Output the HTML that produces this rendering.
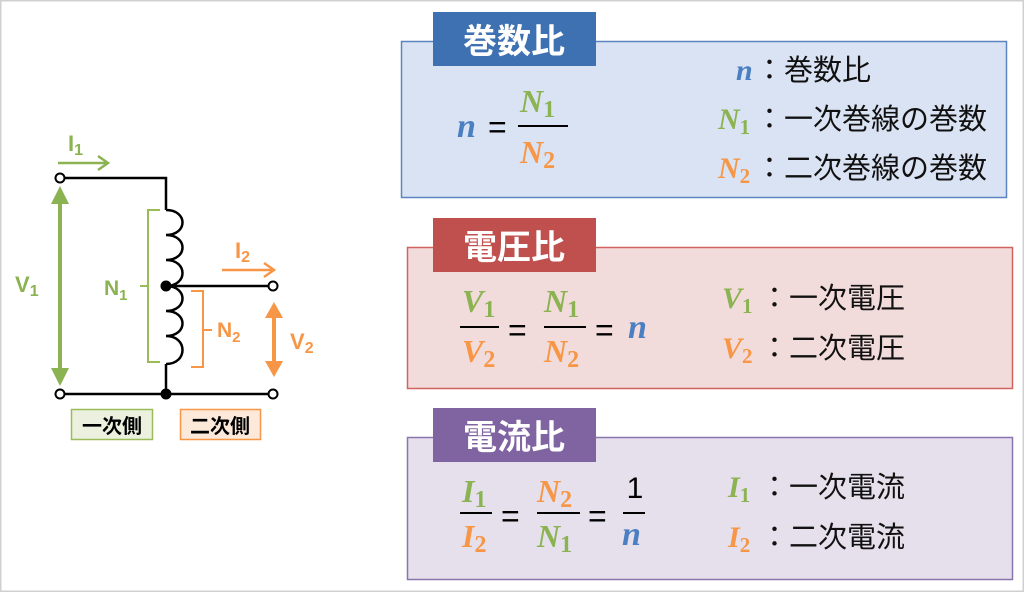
<!DOCTYPE html>
<html><head><meta charset="utf-8"><style>
html,body{margin:0;padding:0;background:#fff}
svg{display:block}
.j{font-family:"Liberation Sans","Noto Sans CJK JP",sans-serif}
.m{font-family:"Liberation Serif",serif;font-weight:bold;font-style:italic}
.s{font-style:normal}
</style></head><body>
<svg width="1024" height="592" viewBox="0 0 1024 592" xmlns="http://www.w3.org/2000/svg">
<rect x="0.5" y="0.5" width="1023" height="591" fill="#fff" stroke="#d0d0d0" stroke-width="2"/>
<!-- circuit -->
<g stroke="#000" stroke-width="2.5" fill="none">
<polyline points="64,178 166,178 166,210"/>
<path d="M166,210 c22,0 22,25 0,25 c22,0 22,25 0,25 c22,0 22,26 0,26 c22,0 22,25 0,25 c22,0 22,25 0,25 c22,0 22,28 0,28"/>
<line x1="166" y1="364" x2="166" y2="394"/>
<line x1="166" y1="286" x2="268" y2="286"/>
<line x1="64" y1="394" x2="268" y2="394"/>
</g>
<circle cx="166" cy="286" r="5.5" fill="#000"/>
<circle cx="166" cy="394" r="5.5" fill="#000"/>
<g fill="#fff" stroke="#000" stroke-width="2">
<circle cx="60" cy="178" r="4.5"/><circle cx="60" cy="394" r="4.5"/>
<circle cx="273" cy="286" r="4.5"/><circle cx="273" cy="394" r="4.5"/>
</g>
<line x1="60" y1="200" x2="60" y2="372" stroke="#8cb352" stroke-width="4"/>
<polygon points="60,186 51,204 69,204" fill="#8cb352"/>
<polygon points="60,386 51,368 69,368" fill="#8cb352"/>
<text x="15" y="292" class="j" font-size="22" font-weight="bold" fill="#8cb352">V<tspan font-size="16" dy="4">1</tspan></text>
<text x="68" y="151" class="j" font-size="22" font-weight="bold" fill="#8cb352">I<tspan font-size="16" dy="4">1</tspan></text>
<polyline points="58,163 108,163" stroke="#8cb352" stroke-width="2.5" fill="none"/>
<polyline points="98,156 108,163 98,170" stroke="#8cb352" stroke-width="2.5" fill="none"/>
<path d="M160,210 H148 V362 H160 M148,286 H140" stroke="#9bbb59" stroke-width="2" fill="none"/>
<text x="104" y="295" class="j" font-size="21" font-weight="bold" fill="#8cb352">N<tspan font-size="15" dy="5">1</tspan></text>
<path d="M191,291 H203 V367 H191 M203,330 H212" stroke="#f79646" stroke-width="2" fill="none"/>
<text x="217" y="337" class="j" font-size="21" font-weight="bold" fill="#f79646">N<tspan font-size="15" dy="5">2</tspan></text>
<text x="235" y="258" class="j" font-size="22" font-weight="bold" fill="#f79646">I<tspan font-size="16" dy="4">2</tspan></text>
<polyline points="222,270 274,270" stroke="#f79646" stroke-width="2.5" fill="none"/>
<polyline points="264,263 274,270 264,277" stroke="#f79646" stroke-width="2.5" fill="none"/>
<line x1="274" y1="315" x2="274" y2="364" stroke="#f79646" stroke-width="4"/>
<polygon points="274,302 265,318 283,318" fill="#f79646"/>
<polygon points="274,377 265,361 283,361" fill="#f79646"/>
<text x="290" y="349" class="j" font-size="22" font-weight="bold" fill="#f79646">V<tspan font-size="16" dy="4">2</tspan></text>
<rect x="71.5" y="409.5" width="81" height="30" fill="#ebf1de" stroke="#9bbb59" stroke-width="1.5"/>
<text x="112" y="433" text-anchor="middle" class="j" font-size="20" font-weight="bold" fill="#000">一次側</text>
<rect x="180.5" y="409.5" width="80" height="30" fill="#fde9d9" stroke="#f79646" stroke-width="1.5"/>
<text x="220" y="433" text-anchor="middle" class="j" font-size="20" font-weight="bold" fill="#000">二次側</text>

<!-- Box 1 -->
<rect x="401.5" y="41.5" width="605" height="156" fill="#dae3f3" stroke="#5b84c0" stroke-width="1.5"/>
<rect x="433" y="12" width="163" height="54" fill="#3e71b1"/>
<text x="514" y="53" text-anchor="middle" class="j" font-size="34" font-weight="bold" fill="#fff">巻数比</text>
<text x="457" y="137" class="m" font-size="34" fill="#4a7fc1">n</text>
<text x="488" y="138" class="j" font-size="32" fill="#000">=</text>
<text x="520" y="112" class="m" font-size="32" fill="#8cb352">N<tspan class="s" font-size="24" dy="5">1</tspan></text>
<line x1="518" y1="126" x2="568" y2="126" stroke="#000" stroke-width="2"/>
<text x="520" y="163" class="m" font-size="32" fill="#f79646">N<tspan class="s" font-size="24" dy="5">2</tspan></text>
<text x="736" y="80" class="m" font-size="30" fill="#4a7fc1">n</text>
<text x="755" y="80" class="j" font-size="29" fill="#111">：巻数比</text>
<text x="718" y="129" class="m" font-size="30" fill="#8cb352">N<tspan class="s" font-size="21" dy="5">1</tspan></text>
<text x="755" y="129" class="j" font-size="29" fill="#111">：一次巻線の巻数</text>
<text x="718" y="178" class="m" font-size="30" fill="#f79646">N<tspan class="s" font-size="21" dy="5">2</tspan></text>
<text x="755" y="178" class="j" font-size="29" fill="#111">：二次巻線の巻数</text>

<!-- Box 2 -->
<rect x="407.5" y="247.5" width="605" height="141" fill="#f2dcdb" stroke="#d06360" stroke-width="1.5"/>
<rect x="433" y="218" width="163" height="54" fill="#c0504d"/>
<text x="514" y="259" text-anchor="middle" class="j" font-size="34" font-weight="bold" fill="#fff">電圧比</text>
<text x="462" y="312" class="m" font-size="32" fill="#8cb352">V<tspan class="s" font-size="24" dy="5">1</tspan></text>
<line x1="460" y1="327" x2="499" y2="327" stroke="#000" stroke-width="2"/>
<text x="462" y="362" class="m" font-size="32" fill="#f79646">V<tspan class="s" font-size="24" dy="5">2</tspan></text>
<text x="508" y="341" class="j" font-size="32" fill="#000">=</text>
<text x="544" y="312" class="m" font-size="32" fill="#8cb352">N<tspan class="s" font-size="24" dy="5">1</tspan></text>
<line x1="544" y1="327" x2="586" y2="327" stroke="#000" stroke-width="2"/>
<text x="544" y="362" class="m" font-size="32" fill="#f79646">N<tspan class="s" font-size="24" dy="5">2</tspan></text>
<text x="595" y="341" class="j" font-size="32" fill="#000">=</text>
<text x="628" y="338" class="m" font-size="34" fill="#4a7fc1">n</text>
<text x="722" y="308" class="m" font-size="30" fill="#8cb352">V<tspan class="s" font-size="21" dy="5">1</tspan></text>
<text x="760" y="308" class="j" font-size="29" fill="#111">：一次電圧</text>
<text x="722" y="358" class="m" font-size="30" fill="#f79646">V<tspan class="s" font-size="21" dy="5">2</tspan></text>
<text x="760" y="358" class="j" font-size="29" fill="#111">：二次電圧</text>

<!-- Box 3 -->
<rect x="407.5" y="437.5" width="605" height="142" fill="#e5e0ec" stroke="#8a75ad" stroke-width="1.5"/>
<rect x="433" y="408" width="163" height="54" fill="#8064a2"/>
<text x="514" y="449" text-anchor="middle" class="j" font-size="34" font-weight="bold" fill="#fff">電流比</text>
<text x="462" y="502" class="m" font-size="32" fill="#8cb352">I<tspan class="s" font-size="24" dy="5">1</tspan></text>
<line x1="460" y1="513" x2="492" y2="513" stroke="#000" stroke-width="2"/>
<text x="462" y="547" class="m" font-size="32" fill="#f79646">I<tspan class="s" font-size="24" dy="5">2</tspan></text>
<text x="501" y="527" class="j" font-size="32" fill="#000">=</text>
<text x="537" y="502" class="m" font-size="32" fill="#f79646">N<tspan class="s" font-size="24" dy="5">2</tspan></text>
<line x1="537" y1="513" x2="580" y2="513" stroke="#000" stroke-width="2"/>
<text x="537" y="547" class="m" font-size="32" fill="#8cb352">N<tspan class="s" font-size="24" dy="5">1</tspan></text>
<text x="588" y="527" class="j" font-size="32" fill="#000">=</text>
<text x="635" y="498" text-anchor="middle" class="j" font-size="30" fill="#000">1</text>
<line x1="623" y1="513" x2="645" y2="513" stroke="#000" stroke-width="2"/>
<text x="622" y="545" class="m" font-size="34" fill="#4a7fc1">n</text>
<text x="728" y="497" class="m" font-size="30" fill="#8cb352">I<tspan class="s" font-size="21" dy="5">1</tspan></text>
<text x="760" y="497" class="j" font-size="29" fill="#111">：一次電流</text>
<text x="728" y="547" class="m" font-size="30" fill="#f79646">I<tspan class="s" font-size="21" dy="5">2</tspan></text>
<text x="760" y="547" class="j" font-size="29" fill="#111">：二次電流</text>
</svg>
</body></html>
